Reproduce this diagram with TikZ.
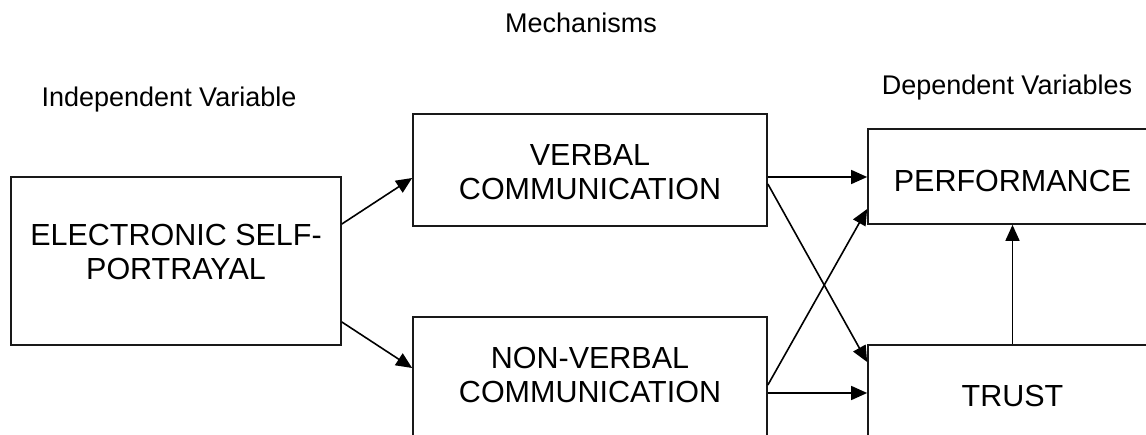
\documentclass[tikz,border=0pt]{standalone}
\usepackage{fontspec}
\setmainfont{Liberation Sans}
\usetikzlibrary{arrows.meta}
\begin{document}
\begin{tikzpicture}[x=1pt,y=-1pt,
  box/.style={draw=black!90, line width=1.7pt, rectangle, inner sep=0pt,
    minimum width=#1},
  boxtext/.style={align=center, inner sep=0pt,
    font=\fontsize{30.5}{34}\selectfont},
  heading/.style={anchor=base, inner sep=0pt,
    font=\fontsize{27}{30}\selectfont},
  link/.style={line width=1.6pt, -{Triangle[length=16pt,width=14pt]}}]
\useasboundingbox (0,0) rectangle (1146,435);
\clip (0,0) rectangle (1146,435);

% headings
\node[heading] (iv) at (169,107) {Independent Variable};
\node[heading] (mech) at (581,33) {Mechanisms};
\node[heading] (dv) at (1007,95) {Dependent Variables};

% boxes (the lower and right ones run past the page edge)
\node[box=330pt, minimum height=168pt] (esp) at (176,261) {};
\node[box=354pt, minimum height=112pt] (verbal) at (590,170) {};
\node[box=354pt, minimum height=160pt] (nonverbal) at (590,397) {};
\node[box=289pt, minimum height=95pt] (perf) at (1012.5,176.5) {};
\node[box=289pt, minimum height=160pt] (trust) at (1012.5,425) {};

% box captions
\node[boxtext] (esp-t) at (176,252) {ELECTRONIC SELF-\\PORTRAYAL};
\node[boxtext] (verbal-t) at (590,172) {VERBAL\\COMMUNICATION};
\node[boxtext] (nonverbal-t) at (590,375) {NON-VERBAL\\COMMUNICATION};
\node[boxtext] (perf-t) at (1012.5,181) {PERFORMANCE};
\node[boxtext] (trust-t) at (1012.5,396) {TRUST};

% paths
\draw[link] (esp.east |- 0,224) -- (verbal.west |- 0,178);
\draw[link] (esp.east |- 0,322) -- (nonverbal.west |- 0,368);
\draw[link] (verbal.east |- 0,177) -- (perf.west |- 0,177);
\draw[link] (verbal.east |- 0,184) -- (trust.west |- 0,362);
\draw[link] (nonverbal.east |- 0,385) -- (perf.west |- 0,209);
\draw[link] (nonverbal.east |- 0,393) -- (trust.west |- 0,393);
\draw[link] (trust.north) -- (perf.south);
\end{tikzpicture}
\end{document}
